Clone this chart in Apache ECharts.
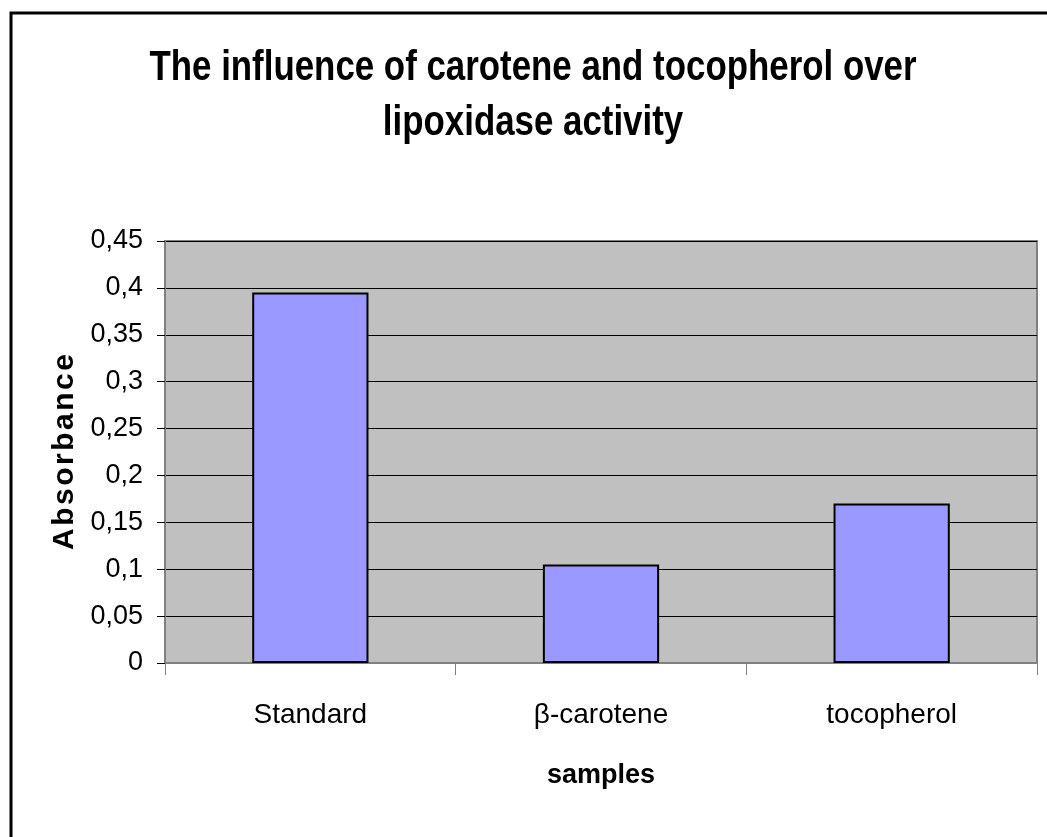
<!DOCTYPE html>
<html>
<head>
<meta charset="utf-8">
<script src="https://cdn.jsdelivr.net/npm/echarts@6/dist/echarts.min.js"></script>
<style>
  html, body { margin: 0; padding: 0; background: #fff; }
  #chart { width: 1047px; height: 837px; }
</style>
</head>
<body>
<div id="chart"></div>
<script>
// data
const categories = ['Standard', 'β-carotene', 'tocopherol'];
const absorbance = [0.395, 0.105, 0.17];
const yMin = 0;
const yMax = 0.45;
const yStep = 0.05;
const titleLines = ['The influence of carotene and tocopherol over', 'lipoxidase activity'];

const FONT = '"Liberation Sans", Arial, sans-serif';

const chart = echarts.init(document.getElementById('chart'));

// the original text is a condensed face, so squeeze title lines horizontally
function titleLine(txt, y) {
  return {
    type: 'text',
    x: 533,
    y: y,
    scaleX: 0.83,
    silent: true,
    style: {
      text: txt,
      font: 'bold 42px ' + FONT,
      fill: '#000',
      textAlign: 'center',
      textVerticalAlign: 'middle'
    }
  };
}

chart.setOption({
  backgroundColor: '#fff',
  animation: false,
  graphic: [
    // outer chart border (only left/top edges fall inside the picture)
    {
      type: 'rect',
      shape: { x: 11, y: 13, width: 1100, height: 900 },
      style: { fill: 'none', stroke: '#000', lineWidth: 3 },
      silent: true
    },
    titleLine(titleLines[0], 68),
    titleLine(titleLines[1], 123)
  ],
  grid: {
    left: 165,
    right: 10,
    top: 241,
    bottom: 174,
    show: true,
    backgroundColor: '#c0c0c0',
    borderColor: '#808080',
    borderWidth: 2
  },
  xAxis: {
    type: 'category',
    data: categories,
    name: 'samples',
    nameLocation: 'middle',
    nameGap: 99,
    nameTextStyle: { fontFamily: FONT, fontWeight: 'bold', fontSize: 27, color: '#000' },
    axisLine: { lineStyle: { color: '#808080', width: 2 } },
    axisTick: { show: true, length: 12, lineStyle: { color: '#808080', width: 1 } },
    axisLabel: { fontFamily: FONT, fontSize: 28, color: '#000', margin: 38 },
    splitLine: { show: false }
  },
  yAxis: {
    type: 'value',
    min: yMin,
    max: yMax,
    interval: yStep,
    name: 'A\u200Ab\u200As\u200Ao\u200Ar\u200Ab\u200Aa\u200An\u200Ac\u200Ae',
    nameLocation: 'middle',
    nameGap: 85,
    nameTextStyle: { fontFamily: FONT, fontWeight: 'bold', fontSize: 30, color: '#000' },
    axisLine: { show: true, lineStyle: { color: '#808080', width: 2 } },
    axisTick: { show: true, length: 8, lineStyle: { color: '#000', width: 1 } },
    axisLabel: {
      fontFamily: FONT,
      fontSize: 27,
      color: '#000',
      margin: 22,
      formatter: function (v) { return String(+v.toFixed(2)).replace('.', ','); }
    },
    splitLine: { show: true, lineStyle: { color: '#000', width: 1 } }
  },
  series: [{
    type: 'bar',
    data: absorbance,
    barWidth: '40%',
    itemStyle: { color: '#9999ff', borderColor: '#000', borderWidth: 2 }
  }]
});
</script>
</body>
</html>
